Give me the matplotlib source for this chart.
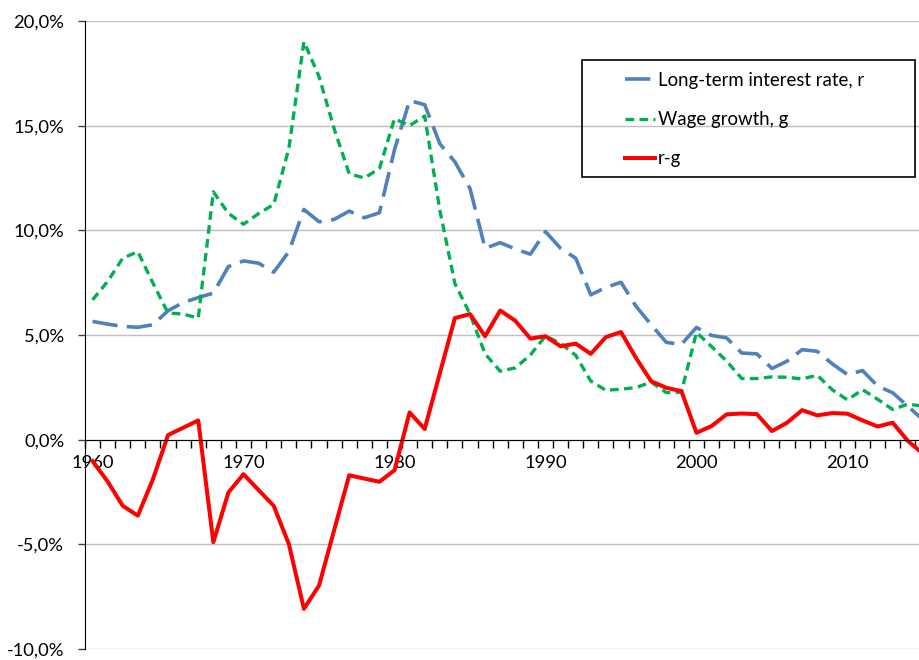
import numpy as np
import matplotlib
matplotlib.use("Agg")
import matplotlib.pyplot as plt
from matplotlib.patches import Rectangle

plt.rcParams['font.family'] = ['Lato', 'DejaVu Sans']

# data (percent)
years = list(range(1960, 2016))

interest_rate = [5.65, 5.52, 5.41, 5.37, 5.49, 6.16, 6.55, 6.79, 7.00, 8.27,
                 8.54, 8.43, 8.00, 8.98, 11.00, 10.41, 10.52, 10.92, 10.60, 10.84,
                 13.85, 16.20, 16.00, 14.14, 13.27, 12.00, 9.14, 9.41, 9.11, 8.86,
                 9.94, 9.14, 8.67, 6.92, 7.27, 7.52, 6.37, 5.49, 4.65, 4.55,
                 5.36, 4.98, 4.86, 4.14, 4.10, 3.40, 3.75, 4.30, 4.22, 3.62,
                 3.11, 3.30, 2.56, 2.24, 1.60, 0.95]

wage_growth = [6.68, 7.56, 8.67, 8.98, 7.48, 6.05, 6.00, 5.81, 11.84, 10.81,
               10.29, 10.80, 11.24, 13.90, 19.01, 17.35, 14.86, 12.70, 12.50, 12.95,
               15.33, 15.00, 15.46, 10.97, 7.46, 6.00, 4.10, 3.27, 3.43, 4.05,
               4.95, 4.60, 4.03, 2.80, 2.36, 2.41, 2.49, 2.75, 2.25, 2.27,
               5.12, 4.45, 3.75, 2.92, 2.92, 3.00, 2.98, 2.90, 3.08, 2.38,
               1.90, 2.39, 1.93, 1.44, 1.70, 1.60]

r_minus_g = [-1.02, -2.00, -3.16, -3.63, -1.89, 0.22, 0.57, 0.92, -4.90, -2.52,
             -1.65, -2.41, -3.16, -4.98, -8.08, -6.97, -4.33, -1.70, -1.86, -2.01,
             -1.46, 1.30, 0.51, 3.17, 5.81, 6.00, 4.94, 6.17, 5.68, 4.83,
             4.94, 4.46, 4.59, 4.10, 4.90, 5.14, 3.90, 2.79, 2.48, 2.32,
             0.33, 0.65, 1.21, 1.25, 1.22, 0.41, 0.81, 1.41, 1.16, 1.27,
             1.24, 0.92, 0.63, 0.81, -0.06, -0.67]

label_years = [1960, 1970, 1980, 1990, 2000, 2010]
y_ticks = [-10, -5, 0, 5, 10, 15, 20]

W, H = 919, 660
fig = plt.figure(figsize=(W / 100, H / 100), dpi=100)
# bottom kept a bit above the edge so the -10,0% label is not clipped
ax = fig.add_axes([85 / W, 1 - 649 / H, 1 - 85 / W, (649 - 21) / H])

ax.plot(years, interest_rate, color='#4F81BD', lw=2.6, dashes=(7, 2.6),
        label='Long-term interest rate, r')
ax.plot(years, wage_growth, color='#00B050', lw=2.4, dashes=(2.6, 1.6),
        label='Wage growth, g')
ax.plot(years, r_minus_g, color='#FF0000', lw=2.9, label='r-g')

ax.set_xlim(1959.5, 2014.74)
ax.set_ylim(-10, 20)

ax.spines['top'].set_visible(False)
ax.spines['right'].set_visible(False)
ax.spines['bottom'].set_position(('data', 0))
ax.spines['left'].set_color('black')
ax.spines['bottom'].set_color('black')

ax.set_yticks(y_ticks)
ax.set_yticklabels([f"{v:.1f}%".replace('.', ',') for v in y_ticks], fontsize=13.2)
ax.yaxis.grid(True, color='#BFBFBF', lw=1)
ax.set_axisbelow(True)
ax.tick_params(axis='y', length=5, width=1, color='#404040', pad=10)

# ticks between the years, labels on the year itself
ax.set_xticks(np.arange(1959.5, 2015, 1))
ax.set_xticklabels([])
ax.set_xticks(label_years, minor=True)
ax.set_xticklabels([str(y) for y in label_years], minor=True, fontsize=13.2)
ax.tick_params(axis='x', which='major', direction='out', length=6, width=1, color='black')
ax.tick_params(axis='x', which='minor', length=0, pad=11)

leg = fig.legend(loc='upper left', bbox_to_anchor=(625 / W, 1 - 72 / H), frameon=False,
                 fontsize=13.4, handlelength=1.6, handletextpad=0.18, labelspacing=1.19,
                 borderpad=0, borderaxespad=0)
fig.patches.append(Rectangle((582 / W, 1 - 177 / H), (915 - 582) / W, (177 - 60) / H,
                             transform=fig.transFigure, fill=False, edgecolor='black', lw=1.2))

plt.savefig('out.png', dpi=100)
